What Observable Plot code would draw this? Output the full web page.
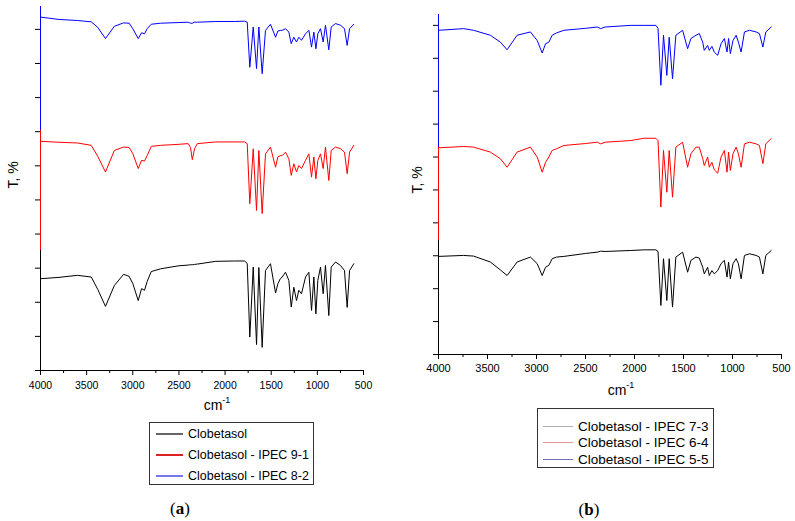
<!DOCTYPE html>
<html><head><meta charset="utf-8">
<script src="https://cdn.jsdelivr.net/npm/d3@7"></script>
<script src="https://cdn.jsdelivr.net/npm/@observablehq/plot@0.6"></script>
<style>
body{margin:0;background:#fff;}
#root{position:relative;width:795px;height:521px;overflow:hidden;background:#fff;font-family:"Liberation Sans",Arial,sans-serif;color:#000;}
.panel{position:absolute;top:0;}
.ylab{position:absolute;font-size:14px;transform:translate(-50%,-50%) rotate(-90deg);white-space:nowrap;}
.xlab{position:absolute;font-size:14px;line-height:14px;transform:translate(-50%,0);white-space:nowrap;}
.xlab sup{font-size:9px;position:relative;top:-2px;vertical-align:top;line-height:9px;}
.legend{position:absolute;border:1px solid #333;box-sizing:border-box;background:#fff;}
.row{position:absolute;left:0;height:16px;display:flex;align-items:center;white-space:nowrap;}
.row .s{display:inline-block;height:0;}
.cap{position:absolute;font-family:"Liberation Serif","Times New Roman",serif;font-size:17px;transform:translate(-50%,-50%);white-space:nowrap;}
</style></head>
<body><div id="root"></div>
<script>
// ---------- Panel (a) data ----------
const wnA = [4000, 3800, 3600, 3450, 3380, 3296, 3200, 3100, 3040, 3000, 2941, 2905, 2873, 2844, 2800, 2700, 2500, 2400, 2375, 2355, 2330, 2300, 2100, 1900, 1790, 1760, 1732, 1695, 1659, 1634, 1598, 1562, 1508, 1453, 1428, 1400, 1381, 1345, 1309, 1283, 1255, 1226, 1201, 1172, 1128, 1092, 1063, 1038, 1016, 995, 966, 937, 912, 876, 850, 803, 749, 706, 677, 651, 605];
const clobetasolA = [26.9, 27.3, 27.9, 27.4, 23.8, 18.8, 24.9, 28.2, 27.6, 25.5, 20.5, 24.0, 23.5, 26.1, 29.0, 29.8, 30.7, 30.9, 31.0, 31.0, 31.1, 31.2, 32.0, 32.1, 32.1, 31.4, 9.8, 30.3, 7.6, 30.2, 6.8, 29.3, 31.3, 22.7, 25.4, 27.0, 27.4, 28.8, 26.4, 18.6, 24.4, 20.5, 23.5, 22.5, 27.4, 28.8, 17.6, 27.4, 16.6, 26.4, 30.3, 22.5, 30.8, 16.1, 30.3, 31.8, 30.8, 29.3, 18.5, 29.3, 31.3];
const ipec91 = [67.2, 66.9, 66.7, 66.0, 62.8, 58.2, 64.5, 65.5, 65.4, 63.6, 59.2, 61.6, 61.4, 63.0, 65.7, 66.0, 66.3, 66.5, 65.4, 61.8, 65.1, 66.5, 67.0, 67.0, 67.0, 66.5, 48.9, 65.0, 46.9, 64.5, 46.0, 63.5, 65.5, 59.6, 62.6, 63.0, 63.0, 64.0, 62.1, 57.2, 60.6, 58.2, 60.1, 59.2, 61.6, 63.5, 56.7, 62.6, 56.2, 61.6, 63.5, 59.2, 65.5, 55.7, 64.5, 65.5, 65.0, 64.0, 57.7, 64.0, 66.0];
const ipec82 = [103.6, 102.9, 102.6, 102.2, 100.6, 97.3, 100.9, 101.9, 101.8, 100.2, 97.3, 99.0, 98.7, 100.2, 101.5, 101.8, 102.0, 102.1, 101.8, 101.8, 102.1, 102.1, 102.3, 102.3, 102.4, 102.1, 88.9, 100.7, 88.5, 100.7, 87.0, 99.7, 101.5, 97.7, 99.5, 99.7, 99.7, 100.2, 99.2, 95.8, 97.7, 96.3, 97.7, 96.8, 98.7, 99.7, 94.8, 99.2, 94.3, 98.7, 100.2, 96.3, 101.2, 94.0, 100.7, 101.7, 101.2, 100.2, 95.3, 100.2, 101.5];
const namesA = ["Clobetasol", "Clobetasol - IPEC 9-1", "Clobetasol - IPEC 8-2"];
const edgeTopA = [106.7, 70.4];
const edgeBottomA = [70.4, 35.2];

// ---------- Panel (b) data ----------
const wnB = [4000, 3744, 3642, 3471, 3369, 3300, 3198, 3062, 2993, 2942, 2908, 2874, 2840, 2796, 2721, 2500, 2379, 2345, 2300, 2038, 1902, 1782, 1760, 1731, 1704, 1670, 1646, 1612, 1578, 1509, 1458, 1424, 1373, 1339, 1304, 1288, 1254, 1237, 1210, 1186, 1151, 1117, 1083, 1056, 1040, 1022, 995, 963, 940, 912, 878, 827, 759, 725, 690, 660, 605];
const ipec73 = [29.8, 30.1, 29.9, 28.1, 25.7, 24.0, 28.1, 29.6, 27.6, 24.0, 26.5, 27.1, 29.1, 29.6, 29.8, 30.7, 31.1, 31.4, 31.3, 31.6, 31.8, 31.8, 31.3, 14.9, 29.1, 16.4, 29.1, 14.4, 29.6, 31.1, 25.0, 28.6, 29.6, 29.3, 26.5, 24.5, 26.5, 24.0, 25.5, 24.5, 25.5, 27.6, 28.6, 23.5, 28.1, 23.0, 27.6, 29.1, 27.6, 23.0, 30.1, 30.6, 30.1, 29.6, 24.5, 30.1, 31.6];
const ipec64 = [62.8, 63.2, 63.0, 61.5, 59.5, 56.9, 61.5, 63.0, 60.0, 55.4, 58.4, 60.0, 62.0, 62.5, 63.5, 64.1, 64.5, 64.0, 64.5, 65.0, 65.7, 65.7, 65.0, 44.8, 62.0, 49.3, 62.0, 47.8, 63.0, 64.5, 56.9, 61.0, 63.0, 63.0, 59.5, 57.4, 60.0, 56.9, 58.4, 56.1, 55.1, 60.0, 62.0, 55.4, 61.5, 55.9, 61.0, 63.0, 61.0, 56.9, 64.0, 64.5, 64.0, 63.5, 58.0, 64.0, 65.6];
const ipec55 = [98.5, 99.0, 98.5, 97.0, 94.9, 92.6, 97.0, 98.0, 95.4, 91.6, 94.4, 94.9, 97.0, 97.7, 98.5, 99.1, 99.5, 99.0, 99.5, 100.0, 100.0, 100.0, 99.1, 81.8, 97.0, 84.8, 96.4, 83.8, 97.0, 98.5, 92.9, 96.0, 97.0, 97.5, 94.9, 92.4, 93.9, 92.4, 93.6, 91.9, 90.9, 94.4, 96.0, 91.9, 96.0, 91.4, 95.4, 97.0, 94.9, 91.9, 98.0, 98.5, 98.0, 97.5, 93.4, 98.0, 99.5];
const namesB = ["Clobetasol - IPEC 7-3", "Clobetasol - IPEC 6-4", "Clobetasol - IPEC 5-5"];
const edgeTopB = [103.3, 62.9];
const edgeBottomB = [62.9, 34.7];

// ---------- Axis ticks ----------
const majorTicks = [4000, 3500, 3000, 2500, 2000, 1500, 1000, 500];
const minorTicks = [3750, 3250, 2750, 2250, 1750, 1250, 750];
const yTicks = [0, 10, 20, 30, 40, 50, 60, 70, 80, 90, 100];

const lineColors = ["#000000", "#ff0000", "#0000ff"];

function panel(o) {
  const rows = o.series.flatMap((vals, k) => vals.map((t, i) => ({wn: o.wn[i], t, name: o.names[k]})));
  const edges = [
    {y1: o.edgeTop[0], y2: o.edgeTop[1], name: o.names[2]},
    {y1: o.edgeBottom[0], y2: o.edgeBottom[1], name: o.names[1]}
  ];
  return Plot.plot({
    width: o.width, height: o.height,
    marginLeft: o.ml, marginRight: o.mr, marginTop: o.mt, marginBottom: o.mb,
    style: {fontFamily: "'Liberation Sans', Arial, sans-serif", fontSize: o.fs + "px", background: "transparent", color: "#000", overflow: "visible"},
    x: {domain: [4000, 500]},
    y: {domain: [0, o.yTop]},
    color: {domain: o.names, range: lineColors},
    marks: [
      Plot.axisX({ticks: majorTicks, tickSize: 5, tickPadding: o.tp, tickFormat: d3.format("d"), label: null}),
      Plot.axisX({ticks: minorTicks, tickSize: 3, tickFormat: () => "", label: null}),
      Plot.axisY({ticks: yTicks, tickSize: 5, tickFormat: () => "", label: null}),
      Plot.ruleY([0], {stroke: "#000"}),
      Plot.ruleX([4000], {stroke: "#000"}),
      Plot.ruleX(edges, {x: () => 4000, y1: "y1", y2: "y2", stroke: "name"}),
      Plot.line(rows, {x: "wn", y: "t", z: "name", stroke: "name", strokeWidth: 1})
    ]
  });
}

const root = document.getElementById("root");

const pa = panel({wn: wnA, series: [clobetasolA, ipec91, ipec82], names: namesA, edgeTop: edgeTopA, edgeBottom: edgeBottomA,
  width: 380, height: 400, ml: 40, mr: 17, mt: 6, mb: 30, yTop: 106.7, fs: 10.5, tp: 6});
pa.classList.add("panel"); pa.style.left = "0px";
root.appendChild(pa);

const pb = panel({wn: wnB, series: [ipec73, ipec64, ipec55], names: namesB, edgeTop: edgeTopB, edgeBottom: edgeBottomB,
  width: 395, height: 385, ml: 38, mr: 14, mt: 14, mb: 31, yTop: 103.3, fs: 11, tp: 5});
pb.classList.add("panel"); pb.style.left = "400px";
root.appendChild(pb);

function addText(cls, html, left, top) {
  const d = document.createElement("div");
  d.className = cls; d.innerHTML = html;
  d.style.left = left + "px"; d.style.top = top + "px";
  root.appendChild(d);
  return d;
}
addText("ylab", "T, %", 13, 175);
addText("ylab", "T, %", 417, 180);
addText("xlab", "cm<sup>-1</sup>", 217, 398);
addText("xlab", "cm<sup>-1</sup>", 621, 383);
addText("cap", "(<b>a</b>)", 180, 509);
addText("cap", "(<b>b</b>)", 589, 510);

function legend(left, top, w, h, names, colors, rowCenters, sampleLeft, sampleW, textLeft, fs, sw) {
  const box = document.createElement("div");
  box.className = "legend";
  Object.assign(box.style, {left: left + "px", top: top + "px", width: w + "px", height: h + "px"});
  names.forEach((n, i) => {
    const r = document.createElement("div");
    r.className = "row";
    r.style.top = (rowCenters[i] - 8) + "px";
    r.style.left = sampleLeft + "px";
    r.style.fontSize = fs + "px";
    const s = document.createElement("span");
    s.className = "s";
    s.style.width = sampleW + "px";
    s.style.borderTop = sw + "px solid " + colors[i];
    s.style.marginRight = (textLeft - sampleLeft - sampleW) + "px";
    r.appendChild(s);
    const t = document.createElement("span");
    t.textContent = n;
    r.appendChild(t);
    box.appendChild(r);
  });
  root.appendChild(box);
}
legend(149, 422, 165, 63, namesA, ["#666666", "#dd2222", "#7777ee"], [11, 32, 53], 6, 27, 38, 12.5, 2);
legend(537, 408, 177, 60, namesB, ["#b0b0b0", "#e09a9a", "#7070b8"], [17, 33, 50], 5, 30, 40, 13.5, 1);
</script>
</body></html>
